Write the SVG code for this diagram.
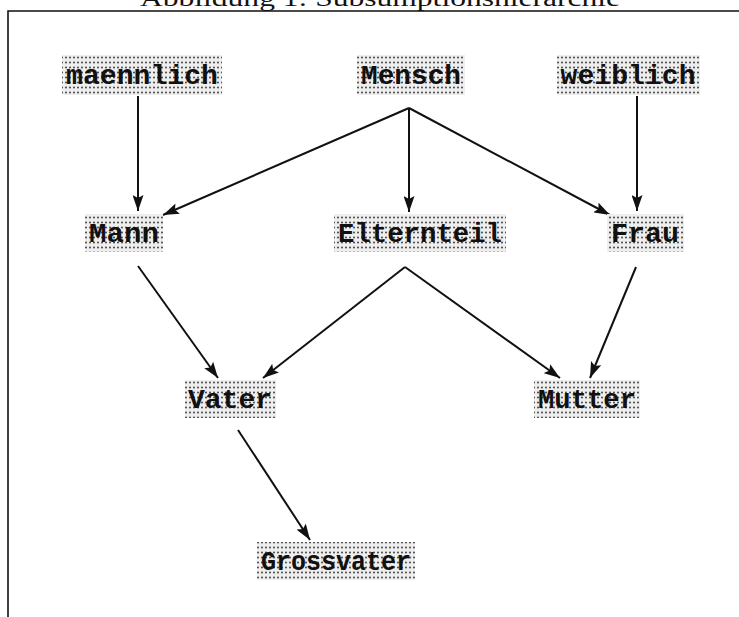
<svg xmlns="http://www.w3.org/2000/svg" width="739" height="617" viewBox="0 0 739 617">
<style>
.lbl{font-family:"Liberation Mono","DejaVu Sans Mono",monospace;font-weight:bold;font-size:28px;fill:#111;text-anchor:middle}
.box{fill:url(#dots)}
.edge{stroke:#111;stroke-width:2;fill:none;marker-end:url(#ah)}
.frame{stroke:#111;stroke-width:1.6;fill:none}
.title{font-family:"Liberation Serif",serif;font-size:24px;fill:#111;text-anchor:middle}
</style>
<defs>
<pattern id="dots" width="4" height="5" patternUnits="userSpaceOnUse">
<rect width="4" height="5" fill="#eeeeee"/>
<circle cx="2" cy="2.5" r="0.9" fill="#333"/>
</pattern>
<marker id="ah" viewBox="0 0 16 11" refX="16" refY="5.5" markerWidth="16" markerHeight="11" markerUnits="userSpaceOnUse" orient="auto">
<path d="M0,0 L16,5.5 L0,11 L3,5.5 Z" fill="#111"/>
</marker>
</defs>
<text class="title" x="380" y="6" textLength="480" lengthAdjust="spacingAndGlyphs">Abbildung 1: Subsumptionshierarchie</text>
<path class="frame" d="M8,617 L8,11 L739,11"/>
<g id="connectors">
<line class="edge" x1="138" y1="96" x2="138" y2="211"/>
<line class="edge" x1="409" y1="108" x2="163" y2="215"/>
<line class="edge" x1="409" y1="108" x2="409" y2="212"/>
<line class="edge" x1="409" y1="108" x2="610" y2="215"/>
<line class="edge" x1="637" y1="96" x2="637" y2="211"/>
<line class="edge" x1="138" y1="266" x2="218" y2="378"/>
<line class="edge" x1="405" y1="267" x2="263" y2="378"/>
<line class="edge" x1="405" y1="267" x2="560" y2="378"/>
<line class="edge" x1="636" y1="267" x2="590" y2="378"/>
<line class="edge" x1="238" y1="430" x2="310" y2="540"/>
</g>
<g id="maennlich"><rect class="box" x="62" y="55" width="160" height="40"/><text class="lbl" x="142" y="84" textLength="152" lengthAdjust="spacingAndGlyphs">maennlich</text></g>
<g id="Mensch"><rect class="box" x="357" y="55" width="108" height="40"/><text class="lbl" x="411" y="84" textLength="100" lengthAdjust="spacingAndGlyphs">Mensch</text></g>
<g id="weiblich"><rect class="box" x="557" y="55" width="143" height="40"/><text class="lbl" x="628" y="84" textLength="135" lengthAdjust="spacingAndGlyphs">weiblich</text></g>
<g id="Mann"><rect class="box" x="85" y="214" width="78" height="38"/><text class="lbl" x="124" y="242" textLength="70" lengthAdjust="spacingAndGlyphs">Mann</text></g>
<g id="Elternteil"><rect class="box" x="334" y="214" width="172" height="38"/><text class="lbl" x="420" y="242" textLength="164" lengthAdjust="spacingAndGlyphs">Elternteil</text></g>
<g id="Frau"><rect class="box" x="607" y="214" width="77" height="38"/><text class="lbl" x="645" y="242" textLength="68" lengthAdjust="spacingAndGlyphs">Frau</text></g>
<g id="Vater"><rect class="box" x="185" y="380" width="91" height="38"/><text class="lbl" x="230" y="408" textLength="84" lengthAdjust="spacingAndGlyphs">Vater</text></g>
<g id="Mutter"><rect class="box" x="534" y="380" width="106" height="38"/><text class="lbl" x="587" y="408" textLength="98" lengthAdjust="spacingAndGlyphs">Mutter</text></g>
<g id="Grossvater"><rect class="box" x="257" y="542" width="158" height="38"/><text class="lbl" x="336" y="570" textLength="150" lengthAdjust="spacingAndGlyphs">Grossvater</text></g>
</svg>
